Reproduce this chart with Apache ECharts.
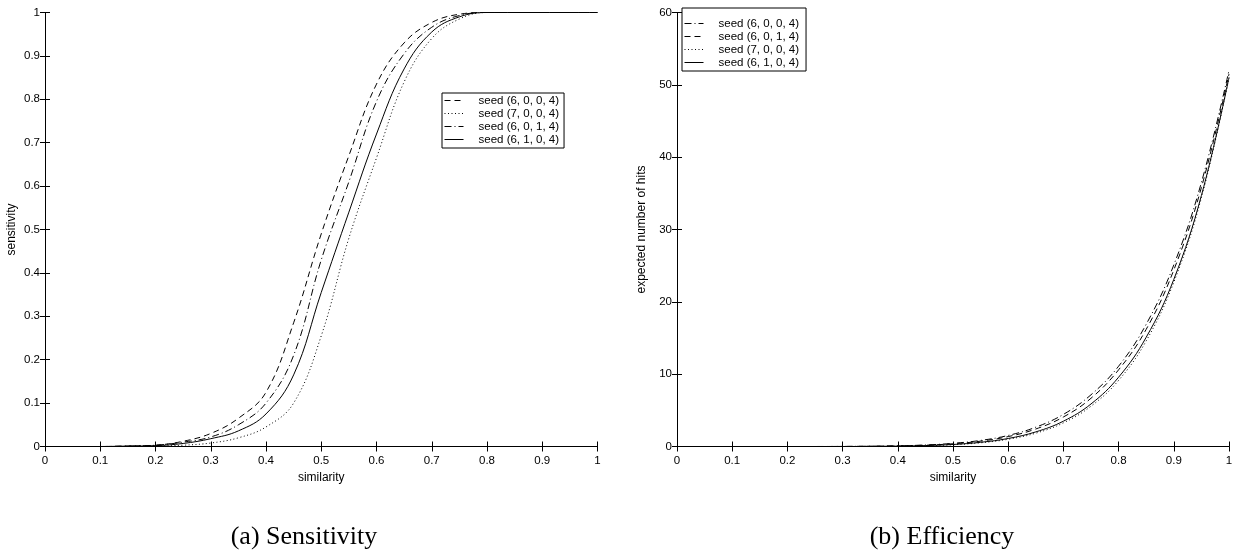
<!DOCTYPE html>
<html>
<head>
<meta charset="utf-8">
<script src="https://cdn.jsdelivr.net/npm/echarts@6/dist/echarts.min.js"></script>
<style>
  html, body { margin: 0; padding: 0; background: #fff; }
  #chart { width: 1236px; height: 556px; }
</style>
</head>
<body>
<div id="chart"></div>
<script>
// shared x values (similarity)
const similarity = [0, 0.05, 0.1, 0.15, 0.2, 0.25, 0.3, 0.35, 0.4, 0.45, 0.5,
                    0.55, 0.6, 0.65, 0.7, 0.75, 0.8, 0.85, 0.9, 0.95, 1];

// (a) sensitivity
const sens6004 = [0, 0, 0, 0.001, 0.003, 0.012, 0.03, 0.065, 0.125, 0.285, 0.49, 0.67, 0.835, 0.93, 0.977, 0.996, 1, 1, 1, 1, 1];
const sens7004 = [0, 0, 0, 0, 0.001, 0.003, 0.008, 0.02, 0.045, 0.1, 0.255, 0.48, 0.665, 0.84, 0.94, 0.985, 1, 1, 1, 1, 1];
const sens6014 = [0, 0, 0, 0.001, 0.003, 0.01, 0.022, 0.05, 0.1, 0.21, 0.43, 0.61, 0.795, 0.905, 0.966, 0.993, 1, 1, 1, 1, 1];
const sens6104 = [0, 0, 0, 0.001, 0.002, 0.007, 0.018, 0.036, 0.075, 0.165, 0.355, 0.54, 0.72, 0.87, 0.955, 0.99, 1, 1, 1, 1, 1];

// (b) expected number of hits
const hits6004 = [0, 0, 0, 0, 0, 0, 0.01, 0.03, 0.09, 0.21, 0.44, 0.84, 1.53, 2.67, 4.44, 7.15, 11.1, 16.9, 25.1, 36.5, 52];
const hits6014 = [0, 0, 0, 0, 0, 0, 0.01, 0.03, 0.08, 0.18, 0.38, 0.74, 1.37, 2.42, 4.08, 6.67, 10.6, 16.2, 24.4, 35.8, 51.5];
const hits7004 = [0, 0, 0, 0, 0, 0, 0, 0.01, 0.04, 0.11, 0.24, 0.51, 1.0, 1.84, 3.27, 5.57, 9.14, 14.6, 22.7, 34.4, 51];
const hits6104 = [0, 0, 0, 0, 0, 0, 0, 0.02, 0.05, 0.13, 0.28, 0.58, 1.11, 2.02, 3.5, 5.88, 9.58, 15.1, 23.1, 34.7, 51];

const FONT = 'Liberation Sans, Arial, Helvetica, sans-serif';
const SERIF = 'Liberation Serif, DejaVu Serif, serif';
const DASH = [6, 4];
const DOT = [1, 2.5];
const DASHDOT = [7, 3, 1, 3];

const pairs = ys => similarity.map((x, i) => [x, ys[i]]);

const chart = echarts.init(document.getElementById('chart'));

// matlab style box: every side drawn, ticks pointing inwards
const axisBase = {
  type: 'value',
  z: 5,
  axisLine: { show: true, lineStyle: { color: '#000', width: 1 } },
  axisTick: { show: true, inside: true, length: 5, lineStyle: { color: '#000' } },
  splitLine: { show: false },
  axisLabel: { color: '#000', fontFamily: FONT, fontSize: 11.5 }
};

const nameStyle = { color: '#000', fontFamily: FONT, fontSize: 12 };

function xAx(grid, pos, label, name) {
  return Object.assign({}, axisBase, {
    gridIndex: grid, position: pos, min: 0, max: 1, interval: 0.1,
    axisLabel: Object.assign({}, axisBase.axisLabel, { show: label, margin: 8,
      formatter: v => String(Math.round(v * 10) / 10) }),
    name: name || '', nameLocation: 'middle', nameGap: 19, nameTextStyle: nameStyle
  });
}

function yAx(grid, pos, label, max, interval, name, gap) {
  return Object.assign({}, axisBase, {
    gridIndex: grid, position: pos, min: 0, max: max, interval: interval,
    axisLabel: Object.assign({}, axisBase.axisLabel, { show: label, margin: 5,
      formatter: v => String(Math.round(v * 10) / 10) }),
    name: name || '', nameLocation: 'middle', nameGap: gap || 30, nameTextStyle: nameStyle
  });
}

function line(name, xi, yi, data, dash) {
  return {
    name: name, type: 'line', xAxisIndex: xi, yAxisIndex: yi,
    data: pairs(data), showSymbol: false, symbol: 'none',
    smooth: 0.4, animation: false,
    lineStyle: { color: '#000', width: 1, type: dash },
    itemStyle: { color: '#000' }
  };
}

const legendBase = {
  orient: 'vertical',
  z: 1,
  backgroundColor: '#fff',
  borderColor: '#000',
  borderWidth: 1,
  borderRadius: 0,
  itemWidth: 19,
  itemHeight: 10,
  itemGap: 0,
  itemStyle: { opacity: 0 },
  lineStyle: { width: 1 },
  textStyle: { color: '#000', fontFamily: FONT, fontSize: 11.5, lineHeight: 13, padding: [0, 0, 0, 10] }
};

const captionStyle = { fontFamily: SERIF, fontWeight: 'normal', fontSize: 26, color: '#000' };

const option = {
  backgroundColor: '#fff',
  animation: false,
  title: [
    { text: '(a) Sensitivity', left: 304, top: 524, padding: 0, textAlign: 'center', textStyle: captionStyle },
    { text: '(b) Efficiency', left: 942, top: 524, padding: 0, textAlign: 'center', textStyle: captionStyle }
  ],
  grid: [
    { left: 45, top: 12.5, width: 552.5, height: 434 },
    { left: 677, top: 12.5, width: 552, height: 434 }
  ],
  xAxis: [
    xAx(0, 'bottom', true, 'similarity'),
    xAx(0, 'top', false),
    xAx(1, 'bottom', true, 'similarity'),
    xAx(1, 'top', false)
  ],
  yAxis: [
    yAx(0, 'left', true, 1, 0.1, 'sensitivity', 27),
    yAx(0, 'right', false, 1, 0.1),
    yAx(1, 'left', true, 60, 10, 'expected number of hits', 29),
    yAx(1, 'right', false, 60, 10)
  ],
  legend: [
    Object.assign({}, legendBase, {
      left: 442, top: 93, padding: [1, 5, 2, 2],
      data: ['seed (6, 0, 0, 4)', 'seed (7, 0, 0, 4)', 'seed (6, 0, 1, 4)', 'seed (6, 1, 0, 4)']
    }),
    Object.assign({}, legendBase, {
      left: 682, top: 8, padding: [9, 7, 2, 2],
      data: ['b seed (6, 0, 0, 4)', 'b seed (6, 0, 1, 4)', 'b seed (7, 0, 0, 4)', 'b seed (6, 1, 0, 4)'],
      formatter: n => n.replace(/^b /, '')
    })
  ],
  series: [
    line('seed (6, 0, 0, 4)', 0, 0, sens6004, DASH),
    line('seed (7, 0, 0, 4)', 0, 0, sens7004, DOT),
    line('seed (6, 0, 1, 4)', 0, 0, sens6014, DASHDOT),
    line('seed (6, 1, 0, 4)', 0, 0, sens6104, 'solid'),
    line('b seed (6, 0, 0, 4)', 2, 2, hits6004, DASHDOT),
    line('b seed (6, 0, 1, 4)', 2, 2, hits6014, DASH),
    line('b seed (7, 0, 0, 4)', 2, 2, hits7004, DOT),
    line('b seed (6, 1, 0, 4)', 2, 2, hits6104, 'solid')
  ]
};

chart.setOption(option);
</script>
</body>
</html>
